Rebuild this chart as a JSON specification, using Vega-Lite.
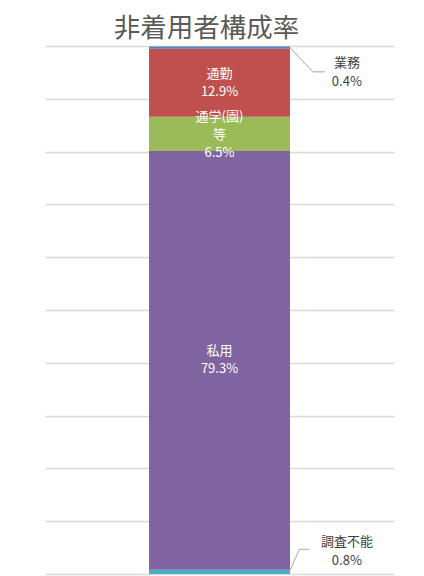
{
  "$schema": "https://vega.github.io/schema/vega-lite/v6.json",
  "width": 349,
  "height": 528,
  "autosize": "none",
  "padding": {"left": 45, "top": 46, "right": 30, "bottom": 2},
  "background": "white",
  "config": {
    "view": {"stroke": null},
    "font": "Noto Sans CJK JP",
    "text": {"font": "Noto Sans CJK JP"}
  },
  "title": {
    "text": "非着用者構成率",
    "fontSize": 26.5,
    "fontWeight": "normal",
    "color": "#595959",
    "font": "Noto Sans CJK JP",
    "anchor": "middle",
    "offset": 2,
    "dx": -13
  },
  "datasets": {
    "main": [
      {"grp": "非着用者", "cat": "調査不能", "label": "調査不能", "v": 0.8, "o": 1, "lines": 2},
      {"grp": "非着用者", "cat": "私用", "label": "私用", "v": 79.3, "o": 2, "lines": 2},
      {"grp": "非着用者", "cat": "通学(園)等", "label": "通学(園)\n等", "v": 6.5, "o": 3, "lines": 3},
      {"grp": "非着用者", "cat": "通勤", "label": "通勤", "v": 12.9, "o": 4, "lines": 2},
      {"grp": "非着用者", "cat": "業務", "label": "業務", "v": 0.4, "o": 5, "lines": 2}
    ],
    "leaders": [
      {"cat": "業務", "px": 69.9, "py": 99.9, "ord": 1},
      {"cat": "業務", "px": 76.8, "py": 95.1, "ord": 2},
      {"cat": "業務", "px": 80.2, "py": 95.1, "ord": 3},
      {"cat": "調査不能", "px": 69.9, "py": 0.25, "ord": 1},
      {"cat": "調査不能", "px": 72.9, "py": 4.68, "ord": 2},
      {"cat": "調査不能", "px": 75.7, "py": 4.68, "ord": 3}
    ],
    "outside": [
      {"cat": "業務", "v": 0.4, "px": 86.5, "py": 95.0},
      {"cat": "調査不能", "v": 0.8, "px": 86.5, "py": 4.36}
    ]
  },
  "resolve": {"scale": {"x": "independent"}},
  "layer": [
    {
      "data": {"name": "main"},
      "transform": [
        {"window": [{"op": "sum", "field": "v", "as": "cum"}], "sort": [{"field": "o", "order": "ascending"}], "frame": [null, 0]},
        {"calculate": "datum.cum - datum.v", "as": "start"}
      ],
      "mark": {"type": "bar"},
      "encoding": {
        "x": {"field": "grp", "type": "nominal", "axis": null, "scale": {"paddingInner": 0, "paddingOuter": 0.738}},
        "y": {
          "field": "start", "type": "quantitative",
          "scale": {"domain": [0, 100], "nice": false},
          "axis": {"values": [0, 10, 20, 30, 40, 50, 60, 70, 80, 90, 100], "labels": false, "ticks": false, "domain": false, "title": null, "grid": true, "gridColor": "#d9d9d9", "gridWidth": 1.5}
        },
        "y2": {"field": "cum"},
        "color": {
          "field": "cat", "type": "nominal", "legend": null,
          "scale": {"domain": ["業務", "通勤", "通学(園)等", "私用", "調査不能"], "range": ["#4f81bd", "#c0504d", "#9bbb59", "#8064a2", "#4bacc6"]}
        }
      }
    },
    {
      "data": {"name": "main"},
      "transform": [
        {"window": [{"op": "sum", "field": "v", "as": "cum"}], "sort": [{"field": "o", "order": "ascending"}], "frame": [null, 0]},
        {"calculate": "datum.cum - datum.v / 2", "as": "mid"},
        {"filter": "datum.v > 2 && datum.lines == 2"},
        {"calculate": "datum.label + '\\n' + format(datum.v, '.1f') + '%'", "as": "txt"}
      ],
      "mark": {"type": "text", "color": "white", "fontSize": 13, "lineHeight": 18, "lineBreak": "\n", "baseline": "middle", "align": "center", "dy": -9},
      "encoding": {
        "x": {"field": "grp", "type": "nominal", "axis": null, "scale": {"paddingInner": 0, "paddingOuter": 0.738}},
        "y": {"field": "mid", "type": "quantitative", "scale": {"domain": [0, 100], "nice": false}},
        "text": {"field": "txt"}
      }
    },
    {
      "data": {"name": "main"},
      "transform": [
        {"window": [{"op": "sum", "field": "v", "as": "cum"}], "sort": [{"field": "o", "order": "ascending"}], "frame": [null, 0]},
        {"calculate": "datum.cum - datum.v / 2", "as": "mid"},
        {"filter": "datum.v > 2 && datum.lines == 3"},
        {"calculate": "datum.label + '\\n' + format(datum.v, '.1f') + '%'", "as": "txt"}
      ],
      "mark": {"type": "text", "color": "white", "fontSize": 13, "lineHeight": 18, "lineBreak": "\n", "baseline": "middle", "align": "center", "dy": -17},
      "encoding": {
        "x": {"field": "grp", "type": "nominal", "axis": null, "scale": {"paddingInner": 0, "paddingOuter": 0.738}},
        "y": {"field": "mid", "type": "quantitative", "scale": {"domain": [0, 100], "nice": false}},
        "text": {"field": "txt"}
      }
    },
    {
      "data": {"name": "leaders"},
      "mark": {"type": "line", "color": "#a6a6a6", "strokeWidth": 1},
      "encoding": {
        "x": {"field": "px", "type": "quantitative", "axis": null, "scale": {"domain": [0, 100], "nice": false}},
        "y": {"field": "py", "type": "quantitative", "scale": {"domain": [0, 100], "nice": false}},
        "detail": {"field": "cat"},
        "order": {"field": "ord"}
      }
    },
    {
      "data": {"name": "outside"},
      "transform": [
        {"calculate": "datum.cat + '\\n' + format(datum.v, '.1f') + '%'", "as": "txt"}
      ],
      "mark": {"type": "text", "color": "#404040", "fontSize": 13, "lineHeight": 19, "lineBreak": "\n", "baseline": "middle", "align": "center", "dy": -9},
      "encoding": {
        "x": {"field": "px", "type": "quantitative", "axis": null, "scale": {"domain": [0, 100], "nice": false}},
        "y": {"field": "py", "type": "quantitative", "scale": {"domain": [0, 100], "nice": false}},
        "text": {"field": "txt"}
      }
    }
  ]
}
